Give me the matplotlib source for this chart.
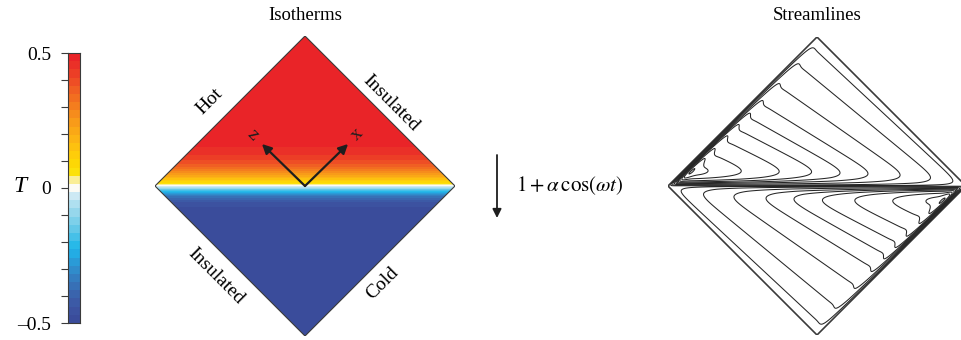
import numpy as np
import matplotlib
matplotlib.use("Agg")
import matplotlib.pyplot as plt
from matplotlib.colors import ListedColormap, BoundaryNorm
from matplotlib.patches import Polygon

plt.rcParams["font.family"] = ["Liberation Serif", "DejaVu Serif"]
plt.rcParams["mathtext.fontset"] = "stix"

# temperature colour table, bottom (-0.5) to top (+0.5)
t_colors = [
    (58, 76, 155), (60, 82, 160), (60, 90, 166), (58, 100, 173), (55, 112, 182),
    (52, 125, 192), (48, 140, 203), (42, 155, 215), (35, 172, 228), (40, 185, 232),
    (70, 192, 232), (100, 200, 232), (125, 208, 234), (150, 215, 236), (175, 224, 240),
    (205, 233, 244), (252, 251, 245), (250, 238, 150), (252, 225, 10), (253, 215, 5),
    (254, 205, 10), (253, 193, 15), (252, 180, 20), (250, 168, 22), (248, 155, 25),
    (246, 140, 28), (244, 125, 30), (242, 110, 32), (240, 95, 35), (238, 78, 37),
    (236, 62, 38), (234, 48, 40), (233, 36, 40),
]
t_min, t_max = -0.5, 0.5
cbar_ticks = [-0.5, -0.4, -0.3, -0.2, -0.1, 0.0, 0.1, 0.2, 0.3, 0.4, 0.5]
cbar_labels = ["\u20130.5", "", "", "", "", "0", "", "", "", "", "0.5"]

# thermal layer thickness above / below the diagonal (diagonal half-height = 1)
upper_layer = 0.15
lower_layer = 0.08

# streamlines of the upper cell: start on the hot wall (fraction s from the
# left corner) and reach the diagonal at fraction t; lower cell is the 180 deg image
wall_s = [0.06, 0.11, 0.17, 0.24, 0.33, 0.41, 0.49, 0.58, 0.70, 0.84, 0.95]
diag_t = [0.14, 0.22, 0.30, 0.39, 0.50, 0.60, 0.68, 0.76, 0.85, 0.93, 0.985]
wall_bl = 0.010   # hot-wall boundary layer
diag_bl = 0.028   # shear layer on the diagonal

W, H = 961, 340
fig = plt.figure(figsize=(W / 100, H / 100), dpi=100)


def px_axes(x0, y0, w, h):
    ax = fig.add_axes([x0 / W, 1 - (y0 + h) / H, w / W, h / H])
    ax.set_xlim(-1, 1)
    ax.set_ylim(0, 2)
    ax.axis("off")
    return ax


def diamond(**kw):
    return Polygon([(-1, 1), (0, 2), (1, 1), (0, 0)], closed=True, **kw)


n = 1001
XX, YY = np.meshgrid(np.linspace(-1, 1, n), np.linspace(0, 2, n))
inside = np.abs(XX) + np.abs(YY - 1) <= 1

# ---- isotherms ----
cmap = ListedColormap(np.array(t_colors) / 255.0)
bounds = np.linspace(t_min, t_max, len(t_colors) + 1)
norm = BoundaryNorm(bounds, cmap.N)

ax_t = px_axes(155, 36, 300, 300)
d = YY - 1
T = np.where(d >= 0, t_max * np.tanh(d / upper_layer), -t_min * np.tanh(d / lower_layer))
im = ax_t.imshow(T, extent=(-1, 1, 0, 2), origin="lower", cmap=cmap, norm=norm,
                 interpolation="nearest", aspect="auto")
edge = diamond(fc="none", ec="#3a3a3a", lw=0.8)
ax_t.add_patch(edge)
im.set_clip_path(edge)

# local axes arrows
for tip, lab, rot in [((-0.287, 1.28), "z", -45), ((0.287, 1.28), "x", 45)]:
    ax_t.annotate("", xy=tip, xytext=(0, 1),
                  arrowprops=dict(arrowstyle="-|>", color="#1e1e1e", lw=1.6,
                                  mutation_scale=14, shrinkA=0, shrinkB=0))
    ax_t.text(tip[0] * 1.22, 1 + (tip[1] - 1) * 1.22, lab, rotation=rot,
              ha="center", va="center", fontsize=14, color="#1e1e1e")

# ---- streamlines ----
s_knots = np.r_[0.0, wall_s, 1.0]
t_knots = np.r_[0.0, diag_t, 1.0]


def fan_param(X, Y):
    lo = np.zeros_like(X)
    hi = np.ones_like(X)
    for _ in range(34):
        mid = 0.5 * (lo + hi)
        t = np.interp(mid, s_knots, t_knots)
        wx, wy = mid - 1, mid + 1
        cross = (2 * t - 1 - wx) * (Y - wy) - (1 - wy) * (X - wx)
        pos = cross > 0
        lo = np.where(pos, mid, lo)
        hi = np.where(pos, hi, mid)
    return 0.5 * (lo + hi)


def psi_upper(X, Y):
    s = fan_param(X, Y)
    u = np.clip(1 - (Y - X) / 2, 0, None) / wall_bl
    dd = np.clip(Y - 1, 0, None) / diag_bl
    bw = 1 - np.exp(-u) * (np.cos(u) + np.sin(u))
    bd = 1 - np.exp(-dd)
    return (1 - s) * bw * bd


up = YY >= 1
psi = psi_upper(np.where(up, XX, -XX), np.where(up, YY, 2 - YY))
psi[~inside] = 0.0

ax_s = px_axes(668, 37, 298, 298)
levels = sorted(1 - np.array(wall_s))
ax_s.contour(XX, YY, psi, levels=levels, colors="#262626", linewidths=0.75)
ax_s.add_patch(diamond(fc="none", ec="#3a3a3a", lw=1.2))

# ---- colour bar (drawn as a column of blocks) ----
cax = fig.add_axes([68 / W, 1 - 323 / H, 12 / W, 270 / H])
centers = 0.5 * (bounds[:-1] + bounds[1:])
cax.imshow(centers[:, None], extent=(0, 1, t_min, t_max), origin="lower",
           cmap=cmap, norm=norm, aspect="auto", interpolation="nearest")
cax.set_xlim(0, 1)
cax.set_ylim(t_min, t_max)
cax.set_xticks([])
cax.set_yticks(cbar_ticks)
cax.set_yticklabels(cbar_labels)
cax.tick_params(axis="y", direction="out", length=5, width=0.8,
                color="#3a3a3a", labelsize=14, pad=7)
for sp in cax.spines.values():
    sp.set_linewidth(0.8)
    sp.set_edgecolor("#3a3a3a")

# ---- text layer ----
ov = fig.add_axes([0, 0, 1, 1])
ov.set_xlim(0, W)
ov.set_ylim(H, 0)
ov.axis("off")
ov.patch.set_alpha(0)

ov.text(20, 186, "T", style="italic", fontsize=17, ha="center", va="center")
ov.text(305, 15, "Isotherms", fontsize=13.5, ha="center", va="center")
ov.text(817, 15, "Streamlines", fontsize=13.5, ha="center", va="center")
ov.text(210, 101, "Hot", rotation=45, fontsize=14, ha="center", va="center")
ov.text(391, 103, "Insulated", rotation=-45, fontsize=14, ha="center", va="center")
ov.text(216, 276, "Insulated", rotation=-45, fontsize=14, ha="center", va="center")
ov.text(383, 283, "Cold", rotation=45, fontsize=14, ha="center", va="center")

ov.annotate("", xy=(497, 218), xytext=(497, 155),
            arrowprops=dict(arrowstyle="-|>", color="#1e1e1e", lw=1.3,
                            mutation_scale=13, shrinkA=0, shrinkB=0))
ov.text(516, 186, r"$1 + \alpha\,\cos(\omega t)$", fontsize=15, ha="left", va="center")

fig.savefig("out.png", dpi=100)
